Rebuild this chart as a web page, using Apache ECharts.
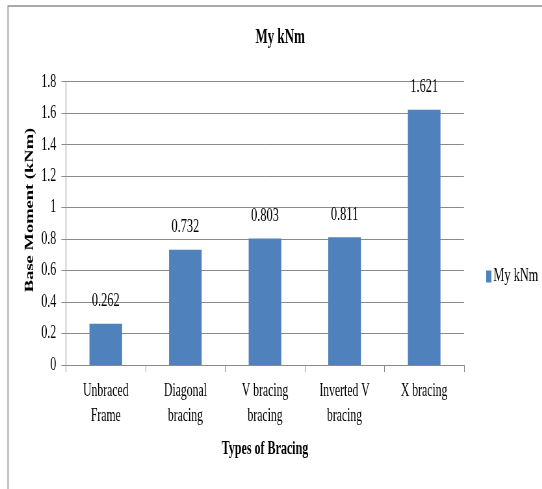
<!DOCTYPE html>
<html>
<head>
<meta charset="utf-8">
<script src="https://cdn.jsdelivr.net/npm/echarts@6/dist/echarts.min.js"></script>
<style>
  html, body { margin: 0; padding: 0; background: #fff; overflow: hidden; }
  /* The chart is laid out wide and then narrowed horizontally, giving the tall condensed lettering */
  #chart { width: 834px; height: 489px; transform: scaleX(0.65); transform-origin: 0 0; }
</style>
</head>
<body>
<div id="chart"></div>
<script>
// Categories, values and tick labels
const bracingTypes = ['Unbraced\nFrame', 'Diagonal\nbracing', 'V bracing\nbracing', 'Inverted V\nbracing', 'X bracing'];
const myKNm = [0.262, 0.732, 0.803, 0.811, 1.621];
const seriesName = 'My kNm';
const yTicks = { min: 0, max: 1.8, interval: 0.2 };

const serif = '"Liberation Serif", "Times New Roman", serif';
const gridGray = '#8a8a8a';

const chart = echarts.init(document.getElementById('chart'), null, { renderer: 'canvas' });

chart.setOption({
  backgroundColor: '#fff',
  animation: false,
  title: {
    text: 'My kNm',
    left: 426,
    top: 23,
    textAlign: 'center',
    textStyle: { fontFamily: serif, fontSize: 20, fontWeight: 'bold', color: '#000' }
  },
  legend: {
    data: [seriesName],
    left: 743,
    top: 262,
    icon: 'rect',
    itemWidth: 8,
    itemHeight: 12,
    itemGap: 4,
    textStyle: { fontFamily: serif, fontSize: 19, color: '#000', padding: [0, 0, 0, -2] }
  },
  grid: { left: 101.5, right: 120.2, top: 81.7, bottom: 124, containLabel: false },
  xAxis: {
    type: 'category',
    data: bracingTypes,
    name: 'Types of Bracing',
    nameLocation: 'middle',
    nameGap: 75,
    nameTextStyle: { fontFamily: serif, fontSize: 18.5, fontWeight: 'bold', color: '#000' },
    axisLine: { lineStyle: { color: gridGray, width: 1 } },
    axisTick: { show: true, length: 7, lineStyle: { color: gridGray } },
    axisLabel: { fontFamily: serif, fontSize: 18, lineHeight: 25, color: '#000', margin: 14, interval: 0 }
  },
  yAxis: {
    type: 'value',
    min: yTicks.min,
    max: yTicks.max,
    interval: yTicks.interval,
    axisLine: { show: true, lineStyle: { color: gridGray, width: 1 } },
    axisTick: { show: true, length: 7, lineStyle: { color: gridGray } },
    axisLabel: {
      fontFamily: serif, fontSize: 18.5, color: '#000', margin: 15,
      formatter: v => String(parseFloat(v.toFixed(1)))
    },
    splitLine: { show: true, lineStyle: { color: gridGray, width: 1 } }
  },
  series: [{
    name: seriesName,
    type: 'bar',
    data: myKNm,
    barWidth: '41%',
    itemStyle: { color: '#4f81bd' },
    label: {
      show: true,
      position: 'top',
      distance: 13,
      fontFamily: serif,
      fontSize: 19,
      color: '#000',
      formatter: p => p.value.toFixed(3)
    }
  }],
  graphic: [
    // outer chart-area border
    {
      type: 'rect',
      shape: { x: 12.3, y: 6, width: 900, height: 600 },
      style: { fill: null, stroke: '#8c8c8c', lineWidth: 1.6 },
      silent: true
    },
    // y-axis title
    {
      type: 'text',
      x: 46,
      y: 210,
      rotation: Math.PI / 2,
      style: {
        text: 'Base Moment (kNm)',
        fontFamily: serif,
        fontSize: 18.5,
        fontWeight: 'bold',
        fill: '#000',
        align: 'center',
        verticalAlign: 'middle'
      }
    },
    // text running off the top edge
    {
      type: 'text',
      x: -6,
      y: -20,
      style: {
        text: '- 0010',
        fontFamily: '"Liberation Sans", Arial, sans-serif',
        fontSize: 26,
        fill: '#000',
        verticalAlign: 'top'
      }
    }
  ]
});
</script>
</body>
</html>
